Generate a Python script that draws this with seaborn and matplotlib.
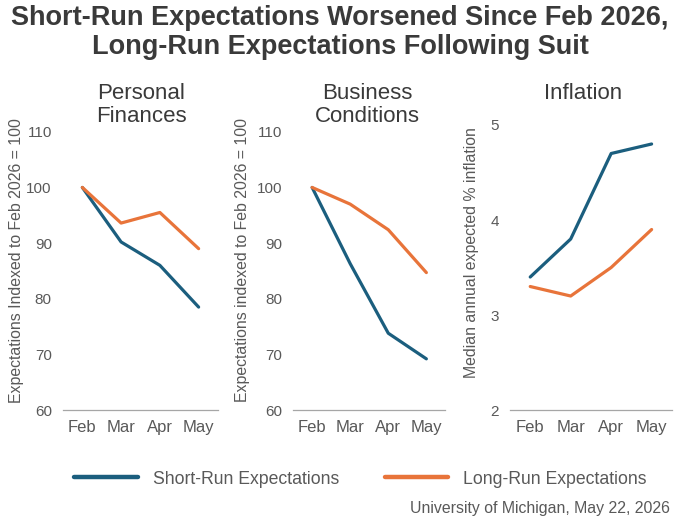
import matplotlib
matplotlib.use("Agg")
import matplotlib.pyplot as plt
from matplotlib.lines import Line2D
import pandas as pd
import seaborn as sns

# data
months = ["Feb", "Mar", "Apr", "May"]
personal_short = [100, 90.2, 86.0, 78.5]
personal_long = [100, 93.6, 95.5, 89.0]
business_short = [100, 86.3, 73.8, 69.2]
business_long = [100, 97.0, 92.4, 84.7]
inflation_short = [3.4, 3.8, 4.7, 4.8]
inflation_long = [3.3, 3.2, 3.5, 3.9]

series_names = ["Short-Run Expectations", "Long-Run Expectations"]
blue = "#1B5E7E"
orange = "#E8743A"
palette = {series_names[0]: blue, series_names[1]: orange}

sns.set_style("white")
plt.rcParams["font.family"] = ["Liberation Sans", "DejaVu Sans"]

text_dark = "#3A3A3A"
text_grey = "#595959"

W, H = 680, 523


def long_df(short, long):
    return pd.DataFrame({
        "month": months * 2,
        "value": short + long,
        "series": [series_names[0]] * 4 + [series_names[1]] * 4,
    })


# title, title x (px), data, y label, label coords, ylim, yticks, axes rect
panels = [
    ("Personal\nFinances", 141, long_df(personal_short, personal_long),
     "Expectations Indexed to Feb 2026 = 100", (-0.297, 0.539),
     (60, 110), [60, 70, 80, 90, 100, 110], [0.0926, 0.216, 0.228, 0.532]),
    ("Business\nConditions", 367, long_df(business_short, business_long),
     "Expectations indexed to Feb 2026 = 100", (-0.329, 0.539),
     (60, 110), [60, 70, 80, 90, 100, 110], [0.431, 0.216, 0.224, 0.532]),
    ("Inflation", 583, long_df(inflation_short, inflation_long),
     "Median annual expected % inflation", (-0.235, 0.553),
     (2, 5), [2, 3, 4, 5], [0.750, 0.216, 0.238, 0.545]),
]

fig = plt.figure(figsize=(6.8, 5.23), dpi=100)

for title, title_x, df, ylab, lab_xy, ylim, yticks, rect in panels:
    ax = fig.add_axes(rect)
    sns.lineplot(data=df, x="month", y="value", hue="series", palette=palette,
                 linewidth=2.3, legend=False, ax=ax, sort=False)
    ax.set_xlim(-0.5, 3.5)
    ax.set_ylim(*ylim)
    ax.set_yticks(yticks)
    ax.set_xlabel("")
    ax.set_ylabel(ylab, fontsize=11.4, color=text_grey, va="center")
    ax.yaxis.set_label_coords(*lab_xy)
    for s in ["top", "right", "left"]:
        ax.spines[s].set_visible(False)
    ax.spines["bottom"].set_color("#A6A6A6")
    ax.spines["bottom"].set_linewidth(0.9)
    ax.tick_params(axis="y", length=0, labelsize=11, colors=text_grey, pad=8)
    ax.tick_params(axis="x", length=0, labelsize=12, colors=text_grey, pad=7)
    ax.grid(False)
    fig.text(title_x / W, 1 - 83 / H, title, ha="center", va="top",
             fontsize=16, color=text_dark, linespacing=1.15)

title_font = dict(ha="center", va="baseline", fontsize=19.5, fontweight="bold",
                  color=text_dark)
fig.text(0.5, 1 - 25 / H, "Short-Run Expectations Worsened Since Feb 2026,", **title_font)
fig.text(0.5, 1 - 54 / H, "Long-Run Expectations Following Suit", **title_font)

handles = [Line2D([0], [0], color=blue, linewidth=3.2),
           Line2D([0], [0], color=orange, linewidth=3.2)]
fig.legend(handles, series_names, loc="center", bbox_to_anchor=(0.53, 1 - 479 / H),
           ncol=2, frameon=False, fontsize=12.7, handlelength=3.6,
           columnspacing=2.6, handletextpad=0.85, labelcolor=text_grey)

fig.text(1 - 10 / W, 1 - 509 / H, "University of Michigan, May 22, 2026", ha="right",
         va="center", fontsize=11.4, color=text_grey)

fig.savefig("out.png", dpi=100)
